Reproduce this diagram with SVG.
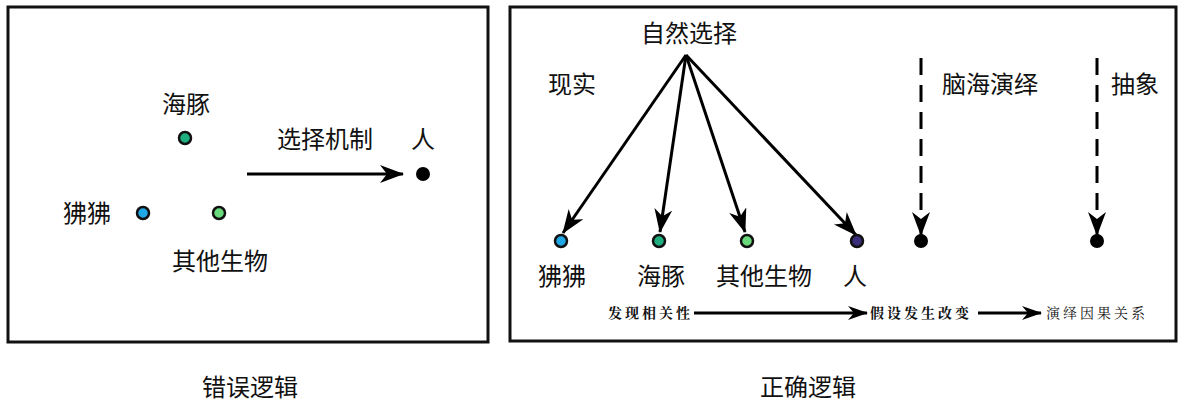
<svg xmlns="http://www.w3.org/2000/svg" width="1184" height="410" viewBox="0 0 1184 410">
<style>
.t{font-family:"Liberation Sans","Noto Sans CJK SC",sans-serif;font-size:24px;fill:#111;text-anchor:middle}
.s{font-family:"Liberation Serif","Noto Serif CJK SC","Noto Sans CJK SC",serif;font-size:14px;fill:#111;letter-spacing:3px}
.box{fill:#fff;stroke:#111;stroke-width:3}
.dot{stroke:#111;stroke-width:2.5}
.ln{stroke:#000;stroke-width:3;fill:none}
.dash{stroke:#000;stroke-width:3;fill:none;stroke-dasharray:17,10}
</style>
<defs>
<marker id="ah" viewBox="0 0 24 18" refX="23" refY="9" markerWidth="24" markerHeight="18" markerUnits="userSpaceOnUse" orient="auto">
<path d="M0,0 L24,9 L0,18 L7,9 Z" fill="#000"/>
</marker>
<marker id="ah2" viewBox="0 0 20 14" refX="19" refY="7" markerWidth="20" markerHeight="14" markerUnits="userSpaceOnUse" orient="auto">
<path d="M0,0 L20,7 L0,14 L6,7 Z" fill="#000"/>
</marker>
</defs>
<rect class="box" x="8" y="7" width="480" height="335"/>
<rect class="box" x="510" y="7" width="666" height="334"/>
<g id="connectors">
<line class="ln" x1="247" y1="174" x2="403" y2="174" marker-end="url(#ah)"/>
<line class="ln" x1="686" y1="55" x2="563" y2="233" marker-end="url(#ah)"/>
<line class="ln" x1="686" y1="55" x2="660" y2="232" marker-end="url(#ah)"/>
<line class="ln" x1="686" y1="55" x2="745" y2="232" marker-end="url(#ah)"/>
<line class="ln" x1="686" y1="55" x2="856" y2="235" marker-end="url(#ah)"/>
<line class="dash" x1="921" y1="58" x2="921" y2="235" marker-end="url(#ah)"/>
<line class="dash" x1="1097" y1="58" x2="1097" y2="235" marker-end="url(#ah)"/>
<line class="ln" x1="694" y1="313" x2="867" y2="313" marker-end="url(#ah2)"/>
<line class="ln" x1="978" y1="313" x2="1041" y2="313" marker-end="url(#ah2)"/>
</g>
<g id="left-haitun"><text class="t" x="186" y="113">海豚</text><circle class="dot" cx="185" cy="138" r="6" fill="#1fae80"/></g>
<g id="left-feifei"><text class="t" x="87" y="222">狒狒</text><circle class="dot" cx="143" cy="213" r="6" fill="#20a8e6"/></g>
<g id="left-other"><text class="t" x="220" y="270">其他生物</text><circle class="dot" cx="219" cy="213" r="6" fill="#6ad97c"/></g>
<g id="left-mech"><text class="t" x="325" y="148">选择机制</text></g>
<g id="left-ren"><text class="t" x="423" y="148">人</text><circle cx="423" cy="174" r="7" fill="#000"/></g>
<g id="title-wrong"><text class="t" x="250" y="396">错误逻辑</text></g>
<g id="ns"><text class="t" x="689" y="42">自然选择</text></g>
<g id="xianshi"><text class="t" x="572" y="93">现实</text></g>
<g id="naohai"><text class="t" x="990" y="93">脑海演绎</text></g>
<g id="chouxiang"><text class="t" x="1135" y="93">抽象</text></g>
<g id="r-feifei"><circle class="dot" cx="561" cy="241" r="6" fill="#20a8e6"/><text class="t" x="562" y="285">狒狒</text></g>
<g id="r-haitun"><circle class="dot" cx="659" cy="241" r="6" fill="#1fae80"/><text class="t" x="661" y="285">海豚</text></g>
<g id="r-other"><circle class="dot" cx="747" cy="241" r="6" fill="#6ad97c"/><text class="t" x="764" y="285">其他生物</text></g>
<g id="r-ren"><circle class="dot" cx="857" cy="241" r="6" fill="#3a2d7a"/><text class="t" x="855" y="285">人</text></g>
<g id="r-dot1"><circle cx="921" cy="241" r="7" fill="#000"/></g>
<g id="r-dot2"><circle cx="1097" cy="241" r="7" fill="#000"/></g>
<g id="s1"><text class="s" x="608" y="318" font-weight="bold">发现相关性</text></g>
<g id="s2"><text class="s" x="870" y="318" font-weight="bold">假设发生改变</text></g>
<g id="s3"><text class="s" x="1046" y="318">演绎因果关系</text></g>
<g id="title-right"><text class="t" x="808" y="396">正确逻辑</text></g>
</svg>
